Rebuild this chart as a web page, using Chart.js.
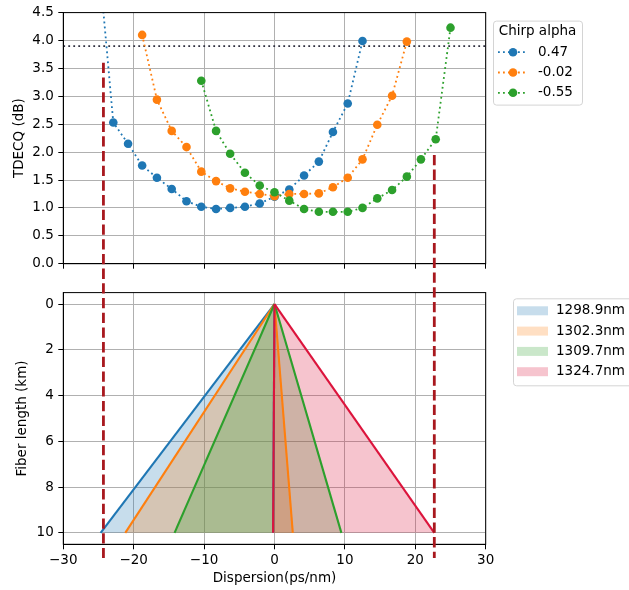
<!DOCTYPE html>
<html>
<head>
<meta charset="utf-8">
<script src="https://cdn.jsdelivr.net/npm/chart.js@4.4.1/dist/chart.umd.min.js"></script>
<style>
  html, body { margin: 0; padding: 0; background: #fff; }
  canvas { display: block; }
</style>
</head>
<body>
<canvas id="tdecq-chart" width="629" height="280"></canvas>
<canvas id="fiber-chart" width="629" height="310"></canvas>
<script>
// Dispersion sweep (ps/nm) used for all TDECQ curves
const dispersion = [-25.0, -22.9, -20.8, -18.8, -16.7, -14.6, -12.5, -10.4, -8.3, -6.3, -4.2, -2.1, 0,
  2.1, 4.2, 6.3, 8.3, 10.4, 12.5, 14.6, 16.7, 18.8, 20.8, 22.9, 25.0];

// TDECQ (dB) per chirp alpha, null = not measured
const tdecqAlpha047 = [5.5, 2.53, 2.15, 1.76, 1.54, 1.34, 1.12, 1.02, 0.98, 1.0, 1.02, 1.08, 1.2,
  1.33, 1.58, 1.83, 2.36, 2.87, 3.99, null, null, null, null, null, null];
const tdecqAlphaM002 = [null, null, null, 4.10, 2.94, 2.38, 2.09, 1.65, 1.48, 1.35, 1.29, 1.25, 1.21,
  1.25, 1.25, 1.26, 1.37, 1.54, 1.87, 2.49, 3.01, 3.98, null, null, null];
const tdecqAlphaM055 = [null, null, null, null, null, null, null, 3.28, 2.38, 1.97, 1.63, 1.40, 1.28,
  1.13, 0.98, 0.93, 0.93, 0.93, 1.0, 1.17, 1.32, 1.56, 1.87, 2.23, 4.23];
const tdecqLimit = 3.9;

const chirpLabels = ['0.47', '-0.02', '-0.55'];
const chirpColors = ['#1f77b4', '#ff7f0e', '#2ca02c'];

// Accumulated dispersion (ps/nm) range after the fiber, per wavelength
const wavelengths = ['1298.9nm', '1302.3nm', '1309.7nm', '1324.7nm'];
const fiberLength = [0, 10];
const accumDispMin = [-24.7, -21.2, -14.2, -0.2];
const accumDispMax = [-0.2, 2.6, 9.5, 22.7];
const bandColors = ['#1f77b4', '#ff7f0e', '#2ca02c', '#dc143c'];

// Dispersion limits marked across both panels
const cutoffDispersion = [-24.3, 22.7];
const cutoffTdecqStart = [3.6, 1.95];
const cutoffLengthEnd = 11.1;

// Tick labels
const dispersionTicks = [-30, -20, -10, 0, 10, 20, 30];
const tdecqTicks = [0, 0.5, 1, 1.5, 2, 2.5, 3, 3.5, 4, 4.5];
const lengthTicks = [0, 2, 4, 6, 8, 10];

Chart.defaults.font.family = 'DejaVu Sans';
Chart.defaults.font.size = 13.5;
Chart.defaults.color = '#000';

const PLOT_LEFT = 63.3;
const PLOT_RIGHT_PAD = 629 - 485.7;

const toPoints = (xs, ys) => xs.map((x, i) => ({ x, y: ys[i] }));
const withAlpha = (hex, a) => {
  const n = parseInt(hex.slice(1), 16);
  return `rgba(${n >> 16}, ${(n >> 8) & 255}, ${n & 255}, ${a})`;
};
const minusLabel = v => (v < 0 ? '\u2212' + Math.abs(v) : String(v));
const setTicks = list => scale => { scale.ticks = list.map(value => ({ value })); };

const gridStyle = { color: '#b0b0b0', lineWidth: 1, tickColor: '#000', tickLength: 5, tickWidth: 1 };
const borderStyle = { color: '#000', width: 1 };

// black box round the plot area
const frame = {
  id: 'frame',
  afterDatasetsDraw(chart) {
    const { ctx, chartArea: a } = chart;
    ctx.save();
    ctx.strokeStyle = '#000';
    ctx.lineWidth = 1;
    ctx.strokeRect(a.left, a.top, a.right - a.left, a.bottom - a.top);
    ctx.restore();
  }
};

// matplotlib-like legend box to the right of the plot
const boxLegend = {
  id: 'boxLegend',
  afterDraw(chart, args, opts) {
    const { ctx, chartArea } = chart;
    const left = chartArea.right + opts.dx;
    const top = chartArea.top + opts.dy;
    ctx.save();
    ctx.beginPath();
    ctx.roundRect(left + 0.5, top + 0.5, opts.width, opts.height, 3);
    ctx.fillStyle = 'rgba(255,255,255,0.8)';
    ctx.fill();
    ctx.strokeStyle = '#d4d4d4';
    ctx.lineWidth = 1;
    ctx.stroke();
    ctx.font = '13.5px "DejaVu Sans"';
    ctx.textBaseline = 'middle';
    let y = top + opts.firstRow;
    if (opts.title) {
      ctx.fillStyle = '#000';
      ctx.textAlign = 'center';
      ctx.fillText(opts.title, left + opts.width / 2, y);
      y += opts.rowGap;
    }
    ctx.textAlign = 'left';
    opts.labels.forEach((label, i) => {
      const color = opts.colors[i];
      if (opts.symbol === 'marker') {
        ctx.strokeStyle = color;
        ctx.lineWidth = 1.8;
        ctx.setLineDash([1.8, 3.2]);
        ctx.beginPath();
        ctx.moveTo(left + 5, y);
        ctx.lineTo(left + 33, y);
        ctx.stroke();
        ctx.setLineDash([]);
        ctx.fillStyle = color;
        ctx.beginPath();
        ctx.arc(left + 20, y, 4.3, 0, Math.PI * 2);
        ctx.fill();
      } else {
        ctx.fillStyle = withAlpha(color, 0.25);
        ctx.fillRect(left + 4, y - 4.5, 31, 9);
      }
      ctx.fillStyle = '#000';
      ctx.fillText(label, left + opts.textX, y);
      y += opts.rowGap;
    });
    ctx.restore();
  }
};

// red dashed dispersion limits, continued from the top canvas into the bottom one
const dashCarry = [0, 0];
const cutoffLines = {
  id: 'cutoffLines',
  afterDraw(chart, args, opts) {
    const { ctx, scales: { x, y } } = chart;
    ctx.save();
    ctx.strokeStyle = '#a8181e';
    ctx.lineWidth = 2.8;
    ctx.setLineDash([10.3, 4.4]);
    cutoffDispersion.forEach((d, i) => {
      const px = x.getPixelForValue(d);
      let y0, y1;
      if (opts.panel === 'top') {
        y0 = y.getPixelForValue(cutoffTdecqStart[i]);
        y1 = chart.height;
        dashCarry[i] = y1 - y0;
        ctx.lineDashOffset = 0;
      } else {
        y0 = 0;
        y1 = y.getPixelForValue(cutoffLengthEnd);
        ctx.lineDashOffset = dashCarry[i];
      }
      ctx.beginPath();
      ctx.moveTo(px, y0);
      ctx.lineTo(px, y1);
      ctx.stroke();
    });
    ctx.restore();
  }
};

const tdecqSeries = [tdecqAlpha047, tdecqAlphaM002, tdecqAlphaM055];

const tdecqChart = new Chart(document.getElementById('tdecq-chart'), {
  type: 'line',
  data: {
    datasets: [
      ...tdecqSeries.map((series, i) => ({
        label: chirpLabels[i],
        data: toPoints(dispersion, series),
        borderColor: chirpColors[i],
        backgroundColor: chirpColors[i],
        borderWidth: 1.8,
        borderDash: [1.8, 3.2],
        pointRadius: 4.3,
        pointBorderWidth: 0,
        pointBackgroundColor: chirpColors[i],
        fill: false,
        clip: { left: 6, right: 6, top: 0, bottom: 6 },
        order: 3 - i
      })),
      {
        label: 'limit',
        data: [{ x: dispersionTicks[0], y: tdecqLimit }, { x: dispersionTicks[dispersionTicks.length - 1], y: tdecqLimit }],
        borderColor: '#2f2f3f',
        borderWidth: 1.8,
        borderDash: [1.8, 3.2],
        pointRadius: 0,
        fill: false,
        order: 10
      }
    ]
  },
  options: {
    responsive: false,
    animation: false,
    events: [],
    layout: { padding: { left: 6.9, top: 10, right: PLOT_RIGHT_PAD, bottom: 0 } },
    plugins: {
      legend: { display: false },
      tooltip: { enabled: false },
      boxLegend: {
        title: 'Chirp alpha', labels: chirpLabels, colors: chirpColors, symbol: 'marker',
        dx: 7.3, dy: 8, width: 89, height: 84, firstRow: 11.3, rowGap: 20.3, textX: 45
      },
      cutoffLines: { panel: 'top' }
    },
    scales: {
      x: {
        type: 'linear', min: -30, max: 30,
        afterBuildTicks: setTicks(dispersionTicks),
        ticks: { display: false },
        grid: gridStyle, border: borderStyle,
        afterFit: s => { s.height = 280 - 263.7; }
      },
      y: {
        min: 0, max: 4.5,
        afterBuildTicks: setTicks(tdecqTicks),
        ticks: { padding: 4.5, callback: v => v.toFixed(1) },
        grid: gridStyle, border: borderStyle,
        title: { display: true, text: 'TDECQ (dB)', padding: { top: 4, bottom: 0 } },
        afterFit: s => { s.width = PLOT_LEFT - 6.9; }
      }
    }
  },
  plugins: [frame, boxLegend, cutoffLines]
});

const bandFills = wavelengths.map((w, i) => ({
  label: w,
  data: [
    { x: 0, y: fiberLength[0] },
    { x: accumDispMin[i], y: fiberLength[1] },
    { x: accumDispMax[i], y: fiberLength[1] }
  ],
  fill: 'shape',
  backgroundColor: withAlpha(bandColors[i], 0.25),
  borderColor: 'transparent',
  borderWidth: 0,
  pointRadius: 0,
  order: 100 - i
}));

const bandEdges = [];
wavelengths.forEach((w, i) => {
  [accumDispMin[i], accumDispMax[i]].forEach(d => {
    bandEdges.push({
      label: w + ' edge',
      data: [{ x: 0, y: fiberLength[0] }, { x: d, y: fiberLength[1] }],
      borderColor: bandColors[i],
      borderWidth: 2.1,
      pointRadius: 0,
      fill: false,
      order: 50 - i
    });
  });
});

const fiberChart = new Chart(document.getElementById('fiber-chart'), {
  type: 'line',
  data: { datasets: [...bandFills, ...bandEdges] },
  options: {
    responsive: false,
    animation: false,
    events: [],
    layout: { padding: { left: 9.9, top: 12.3, right: PLOT_RIGHT_PAD, bottom: 0 } },
    plugins: {
      legend: { display: false },
      tooltip: { enabled: false },
      boxLegend: {
        labels: wavelengths, colors: bandColors, symbol: 'patch',
        dx: 27.3, dy: 5.7, width: 130, height: 87, firstRow: 12.5, rowGap: 20.3, textX: 43
      },
      cutoffLines: { panel: 'bottom' }
    },
    scales: {
      x: {
        type: 'linear', min: -30, max: 30,
        afterBuildTicks: setTicks(dispersionTicks),
        ticks: { padding: 3, callback: minusLabel, maxRotation: 0 },
        grid: gridStyle, border: borderStyle,
        title: { display: true, text: 'Dispersion(ps/nm)', padding: { top: 0, bottom: 3 } },
        afterFit: s => { s.height = 310 - 264.3; }
      },
      y: {
        reverse: true, min: -0.5, max: 10.5,
        afterBuildTicks: setTicks(lengthTicks),
        ticks: { padding: 4.5 },
        grid: gridStyle, border: borderStyle,
        title: { display: true, text: 'Fiber length (km)', padding: { top: 4, bottom: 0 } },
        afterFit: s => { s.width = PLOT_LEFT - 9.9; }
      }
    }
  },
  plugins: [frame, boxLegend, cutoffLines]
});
</script>
</body>
</html>
